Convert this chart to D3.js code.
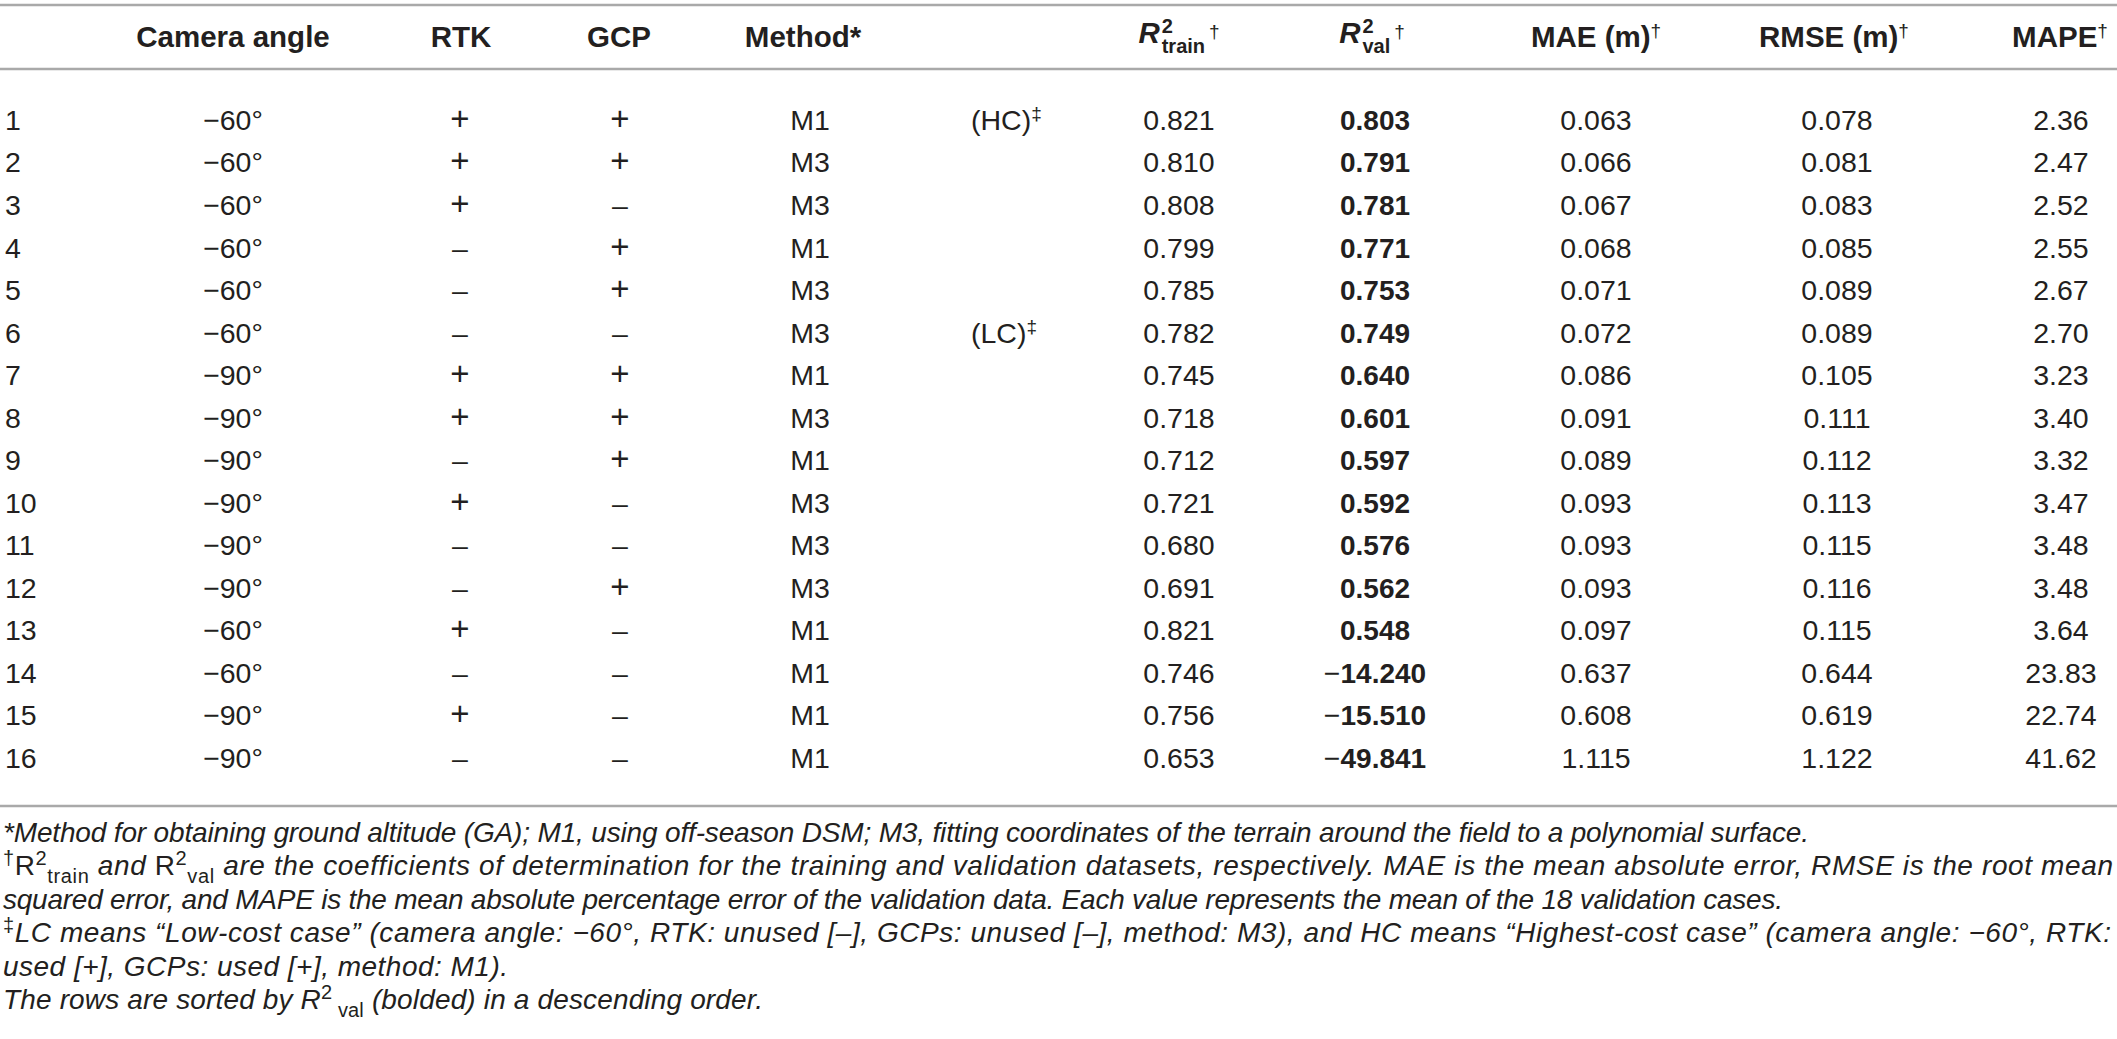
<!DOCTYPE html>
<html>
<head>
<meta charset="utf-8">
<script src="https://cdn.jsdelivr.net/npm/d3@7"></script>
<style>
  body { margin: 0; background: #fff; }
  svg text { font-family: "Liberation Sans", Arial, sans-serif; fill: #231f20; }
</style>
</head>
<body>
<script>
// table data, one array per column
const rowIds = ['1', '2', '3', '4', '5', '6', '7', '8', '9', '10', '11', '12', '13', '14', '15', '16'];
const cameraAngles = [-60, -60, -60, -60, -60, -60, -90, -90, -90, -90, -90, -90, -60, -60, -90, -90];
const rtkUsed = ['+', '+', '+', '–', '–', '–', '+', '+', '–', '+', '–', '–', '+', '–', '+', '–'];
const gcpUsed = ['+', '+', '–', '+', '+', '–', '+', '+', '+', '–', '–', '+', '–', '–', '–', '–'];
const methods = ['M1', 'M3', 'M3', 'M1', 'M3', 'M3', 'M1', 'M3', 'M1', 'M3', 'M3', 'M3', 'M1', 'M1', 'M1', 'M1'];
const costNotes = ['(HC)', '', '', '', '', '(LC)', '', '', '', '', '', '', '', '', '', ''];
const r2Train = [0.821, 0.810, 0.808, 0.799, 0.785, 0.782, 0.745, 0.718, 0.712, 0.721, 0.680, 0.691, 0.821, 0.746, 0.756, 0.653];
const r2Val = [0.803, 0.791, 0.781, 0.771, 0.753, 0.749, 0.640, 0.601, 0.597, 0.592, 0.576, 0.562, 0.548, -14.240, -15.510, -49.841];
const maeM = [0.063, 0.066, 0.067, 0.068, 0.071, 0.072, 0.086, 0.091, 0.089, 0.093, 0.093, 0.093, 0.097, 0.637, 0.608, 1.115];
const rmseM = [0.078, 0.081, 0.083, 0.085, 0.089, 0.089, 0.105, 0.111, 0.112, 0.113, 0.115, 0.116, 0.115, 0.644, 0.619, 1.122];
const mapeVals = [2.36, 2.47, 2.52, 2.55, 2.67, 2.70, 3.23, 3.40, 3.32, 3.47, 3.48, 3.48, 3.64, 23.83, 22.74, 41.62];

const headerLabels = ['', 'Camera angle', 'RTK', 'GCP', 'Method*', '', 'R2train', 'R2val', 'MAE (m)', 'RMSE (m)', 'MAPE'];

const WIDTH = 2117;
const HEIGHT = 1039;
const RULE = '#a9a9a9';
const BODY_SIZE = 28.5;
const HEAD_SIZE = 29.5;
const SMALL_SIZE = 19;

// column layout
const columnKeys = ['id', 'angle', 'rtk', 'gcp', 'method', 'note', 'r2train', 'r2val', 'mae', 'rmse', 'mape'];
const colX = d3.scaleOrdinal()
  .domain(columnKeys)
  .range([5, 233, 460, 620, 810, 971, 1179, 1375, 1596, 1837, 2061]);
const headX = d3.scaleOrdinal()
  .domain(columnKeys)
  .range([5, 233, 461, 619, 803, 971, 1179, 1372, 1596, 1834, 2060]);
const anchorOf = k => (k === 'id' || k === 'note' ? 'start' : 'middle');

const yRow = d3.scaleBand()
  .domain(rowIds)
  .range([98.7, 779.2])
  .paddingInner(0);

const fmt3 = d3.format('.3f');
const fmt2 = d3.format('.2f');

const svg = d3.select('body').append('svg')
  .attr('width', WIDTH)
  .attr('height', HEIGHT);

// rules
[5, 69, 806].forEach(y => {
  svg.append('line')
    .attr('x1', 0).attr('x2', WIDTH)
    .attr('y1', y).attr('y2', y)
    .attr('stroke', RULE)
    .attr('stroke-width', 2.5);
});

// header
const head = svg.append('g').attr('class', 'header');
const HEAD_Y = 47;
headerLabels.forEach((label, i) => {
  const key = columnKeys[i];
  if (!label) return;
  if (key === 'r2train' || key === 'r2val') {
    stackedHeader(head, headX(key), HEAD_Y - 4, 'R', '2', label.slice(2), '†');
    return;
  }
  const t = head.append('text')
    .attr('x', headX(key))
    .attr('y', HEAD_Y)
    .attr('text-anchor', anchorOf(key))
    .style('font-size', `${HEAD_SIZE}px`)
    .style('font-weight', 'bold')
    .text(label);
  if (key === 'mae' || key === 'rmse' || key === 'mape') {
    t.append('tspan').attr('dy', -10).style('font-size', `${SMALL_SIZE}px`).style('font-weight', 'normal').text('†');
  }
});

function stackedHeader(g, cx, y, base, sup, sub, mark) {
  const grp = g.append('g');
  const r = grp.append('text').attr('x', 0).attr('y', y)
    .style('font-size', `${HEAD_SIZE}px`).style('font-weight', 'bold').style('font-style', 'italic')
    .text(base);
  const w = r.node().getComputedTextLength() + 2;
  const s1 = grp.append('text').attr('x', w).attr('y', y - 10)
    .style('font-size', '20px').style('font-weight', 'bold').text(sup);
  const s2 = grp.append('text').attr('x', w).attr('y', y + 10)
    .style('font-size', '20px').style('font-weight', 'bold').text(sub);
  const w2 = Math.max(s1.node().getComputedTextLength(), s2.node().getComputedTextLength()) + 4;
  const m = grp.append('text').attr('x', w + w2).attr('y', y - 5)
    .style('font-size', `${SMALL_SIZE}px`).text(mark);
  const total = w + w2 + m.node().getComputedTextLength();
  grp.attr('transform', `translate(${cx - total / 2},0)`);
}

// body rows
const rows = rowIds.map((id, i) => ({
  id,
  angle: `\u2212${Math.abs(cameraAngles[i])}°`,
  rtk: rtkUsed[i],
  gcp: gcpUsed[i],
  method: methods[i],
  note: costNotes[i],
  r2train: fmt3(r2Train[i]),
  r2val: r2Val[i],
  mae: fmt3(maeM[i]),
  rmse: fmt3(rmseM[i]),
  mape: fmt2(mapeVals[i])
}));

const rowG = svg.append('g').attr('class', 'rows')
  .selectAll('g.row')
  .data(rows)
  .join('g')
  .attr('class', 'row')
  .attr('transform', d => `translate(0,${yRow(d.id) + yRow.bandwidth() / 2 + 10})`);

columnKeys.forEach(key => {
  rowG.filter(d => d[key] !== '')
    .append('text')
    .attr('x', colX(key))
    .attr('text-anchor', anchorOf(key))
    .style('font-size', `${BODY_SIZE}px`)
    .each(function (d) {
      const t = d3.select(this);
      if (key === 'r2val') {
        const v = d.r2val;
        if (v < 0) t.append('tspan').text('\u2212');
        t.append('tspan').style('font-weight', 'bold').style('font-size', '28px').text(fmt3(Math.abs(v)));
      } else if (key === 'rtk' || key === 'gcp') {
        t.style('font-size', d[key] === '+' ? '33px' : `${BODY_SIZE}px`).text(d[key]);
      } else if (key === 'note') {
        t.text(d.note);
        t.append('tspan').attr('dy', -10).style('font-size', `${SMALL_SIZE}px`).text('‡');
      } else {
        t.text(d[key]);
      }
    });
});

// footnotes
const notes = [
  [{ t: '*Method for obtaining ground altitude (GA); M1, using off-season DSM; M3, fitting coordinates of the terrain around the field to a polynomial surface.' }],
  [{ t: '†', up: true, sup: true }, { t: 'R', up: true }, { t: '2', up: true, sup: true }, { t: 'train', up: true, sub: true },
    { t: ' and ' }, { t: 'R', up: true }, { t: '2', up: true, sup: true }, { t: 'val', up: true, sub: true },
    { t: ' are the coefficients of determination for the training and validation datasets, respectively. MAE is the mean absolute error, RMSE is the root mean' }],
  [{ t: 'squared error, and MAPE is the mean absolute percentage error of the validation data. Each value represents the mean of the 18 validation cases.' }],
  [{ t: '‡', up: true, sup: true }, { t: 'LC means “Low-cost case” (camera angle: \u221260°, RTK: unused [–], GCPs: unused [–], method: M3), and HC means “Highest-cost case” (camera angle: \u221260°, RTK:' }],
  [{ t: 'used [+], GCPs: used [+], method: M1).' }],
  [{ t: 'The rows are sorted by R' }, { t: '2', up: true, sup: true }, { t: ' val', up: true, sub: true }, { t: ' (bolded) in a descending order.' }]
];
// line widths as set in the source layout
const noteWidths = [1806, 2110, 1780, 2108, 505, 760];
const noteY = d3.scaleLinear().domain([0, notes.length - 1]).range([842, 1009]);

const foot = svg.append('g').attr('class', 'footnotes');
notes.forEach((segs, i) => {
  const t = foot.append('text')
    .attr('x', 3)
    .attr('y', noteY(i))
    .attr('textLength', noteWidths[i])
    .attr('lengthAdjust', 'spacing')
    .style('font-size', '28px')
    .style('font-style', 'italic');
  let cur = 0;
  segs.forEach(s => {
    const shift = s.sup ? -10 : s.sub ? 8 : 0;
    t.append('tspan')
      .attr('dy', shift - cur)
      .style('font-style', s.up ? 'normal' : 'italic')
      .style('font-size', s.sup || s.sub ? '20px' : null)
      .text(s.t);
    cur = shift;
  });
});
</script>
</body>
</html>
